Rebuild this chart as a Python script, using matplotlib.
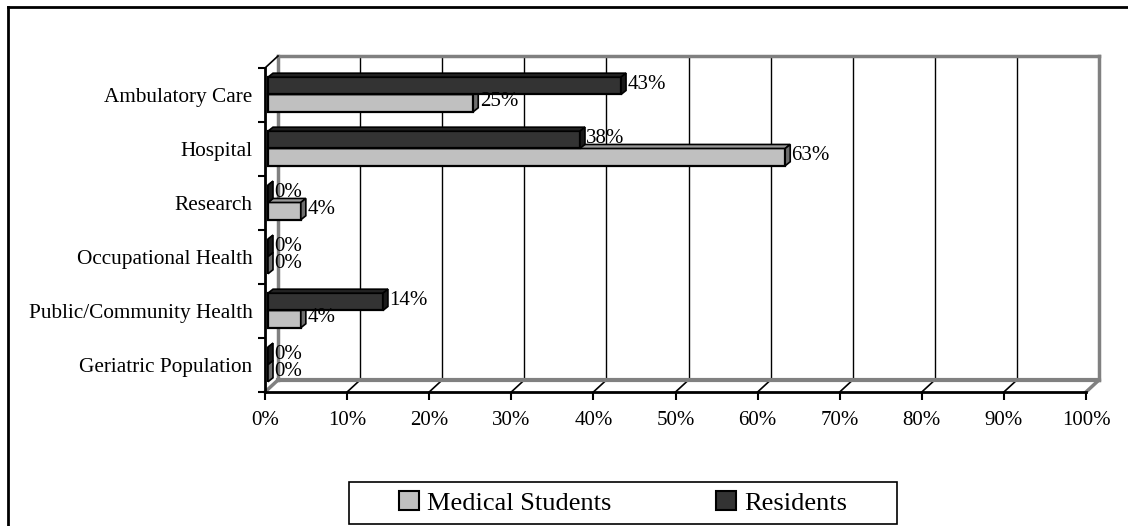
import numpy as np
import matplotlib
matplotlib.use('Agg')
import matplotlib.pyplot as plt
from matplotlib.patches import Polygon, Rectangle, Patch
from matplotlib.lines import Line2D

plt.rcParams['font.family'] = ['Liberation Serif', 'DejaVu Serif']

categorias = ['Ambulatory Care', 'Hospital', 'Research', 'Occupational Health',
              'Public/Community Health', 'Geriatric Population']
estudiantes = [25, 63, 4, 0, 4, 0]
residentes = [43, 38, 0, 0, 14, 0]
series = ['Medical Students', 'Residents']
ticks_x = list(range(0, 101, 10))

W, H = 1128, 526
fig = plt.figure(figsize=(W / 100, H / 100), dpi=100)

# front plane in pixels
L, R, T, B = 265, 1086, 68, 392
ax = fig.add_axes([L / W, 1 - B / H, (R - L) / W, (B - T) / H])
ax.set_xlim(0, 100)
ax.set_ylim(5.5, -0.5)

pxx = (R - L) / 100.0   # px per %
pxy = (B - T) / 6.0     # px per category
# back wall offset
bdx, bdy = 13 / pxx, 12 / pxy
# bar depth
ddx, ddy = 5 / pxx, 4 / pxy
x0 = 3 / pxx  # bars start a little right of the axis

gris_pared = '#808080'
# back wall gridlines
for t in ticks_x[1:-1]:
    ax.plot([t + bdx, t + bdx], [-0.5 - bdy, 5.5 - bdy], color='black', lw=1, clip_on=False, zorder=1)
    ax.plot([t, t + bdx], [5.5, 5.5 - bdy], color='black', lw=1.2, clip_on=False, zorder=1)
# wall edges
ax.plot([bdx, bdx], [-0.5 - bdy, 5.5 - bdy], color=gris_pared, lw=2.5, clip_on=False, zorder=1)
ax.plot([100 + bdx, 100 + bdx], [-0.5 - bdy, 5.5 - bdy], color=gris_pared, lw=2.5, clip_on=False, zorder=1)
ax.plot([bdx, 100 + bdx], [-0.5 - bdy, -0.5 - bdy], color=gris_pared, lw=2.5, clip_on=False, zorder=1)
ax.plot([bdx, 100 + bdx], [5.5 - bdy, 5.5 - bdy], color=gris_pared, lw=3, clip_on=False, zorder=1)
ax.plot([0, bdx], [-0.5, -0.5 - bdy], color='black', lw=1.2, clip_on=False, zorder=1)
ax.plot([0, bdx], [5.5, 5.5 - bdy], color=gris_pared, lw=2.5, clip_on=False, zorder=1)
ax.plot([100, 100 + bdx], [5.5, 5.5 - bdy], color=gris_pared, lw=2.5, clip_on=False, zorder=1)

y = np.arange(len(categorias))
h = 0.32
colores = ['#c0c0c0', '#333333']
lados = ['#6e6e6e', '#1a1a1a']
techos = ['#9a9a9a', '#222222']
offs = [0.15, -0.17]

for vals, col, lado, techo, off in zip([estudiantes, residentes], colores, lados, techos, offs):
    yc = y + off
    ax.barh(yc, vals, left=x0, height=h, color=col, edgecolor='black', lw=1.6, zorder=3, clip_on=False)
    for v, c in zip(vals, yc):
        top, bot = c - h / 2, c + h / 2
        xe = x0 + v
        ax.add_patch(Polygon([(x0, top), (xe, top), (xe + ddx, top - ddy), (x0 + ddx, top - ddy)],
                             closed=True, facecolor=techo, edgecolor='black', lw=1.2, zorder=3, clip_on=False))
        ax.add_patch(Polygon([(xe, top), (xe, bot), (xe + ddx, bot - ddy), (xe + ddx, top - ddy)],
                             closed=True, facecolor=lado, edgecolor='black', lw=1.2, zorder=3, clip_on=False))
        ax.annotate(f'{v}%', (xe + ddx, c), xytext=(1, 1), textcoords='offset points',
                    ha='left', va='center', fontsize=15, zorder=4)

ax.set_xticks(ticks_x)
ax.set_xticklabels([f'{t}%' for t in ticks_x], fontsize=15)
ax.set_yticks(y)
ax.set_yticklabels(categorias, fontsize=15.3)
ax.set_yticks(np.arange(-0.5, 6, 1), minor=True)
ax.tick_params(axis='y', which='major', length=0, pad=9)
ax.tick_params(axis='y', which='minor', length=5, width=1.5, direction='out')
ax.tick_params(axis='x', length=6, width=1.5, direction='out', pad=8)
for s in ['top', 'right']:
    ax.spines[s].set_visible(False)
for s in ['left', 'bottom']:
    ax.spines[s].set_linewidth(2)
    ax.spines[s].set_zorder(2)
ax.patch.set_visible(False)

# legend
handles = [Patch(facecolor=colores[0], edgecolor='black', lw=1.5),
           Patch(facecolor=colores[1], edgecolor='black', lw=1.5)]
fig.legend(handles, series, loc='center', bbox_to_anchor=((349 + 897) / 2 / W, 1 - 503 / H),
           ncol=2, frameon=False, fontsize=19, handlelength=0.75, handleheight=0.75,
           handletextpad=0.3, columnspacing=4.0)
fig.add_artist(Rectangle((349 / W, 1 - 524 / H), 548 / W, 42 / H, transform=fig.transFigure,
                         facecolor='none', edgecolor='black', lw=1.2))

# outer frame
fig.add_artist(Line2D([8 / W, 8 / W], [0, 1 - 7 / H], transform=fig.transFigure, color='black', lw=2))
fig.add_artist(Line2D([8 / W, 1], [1 - 7 / H, 1 - 7 / H], transform=fig.transFigure, color='black', lw=2))

fig.savefig('out.png', dpi=100)
